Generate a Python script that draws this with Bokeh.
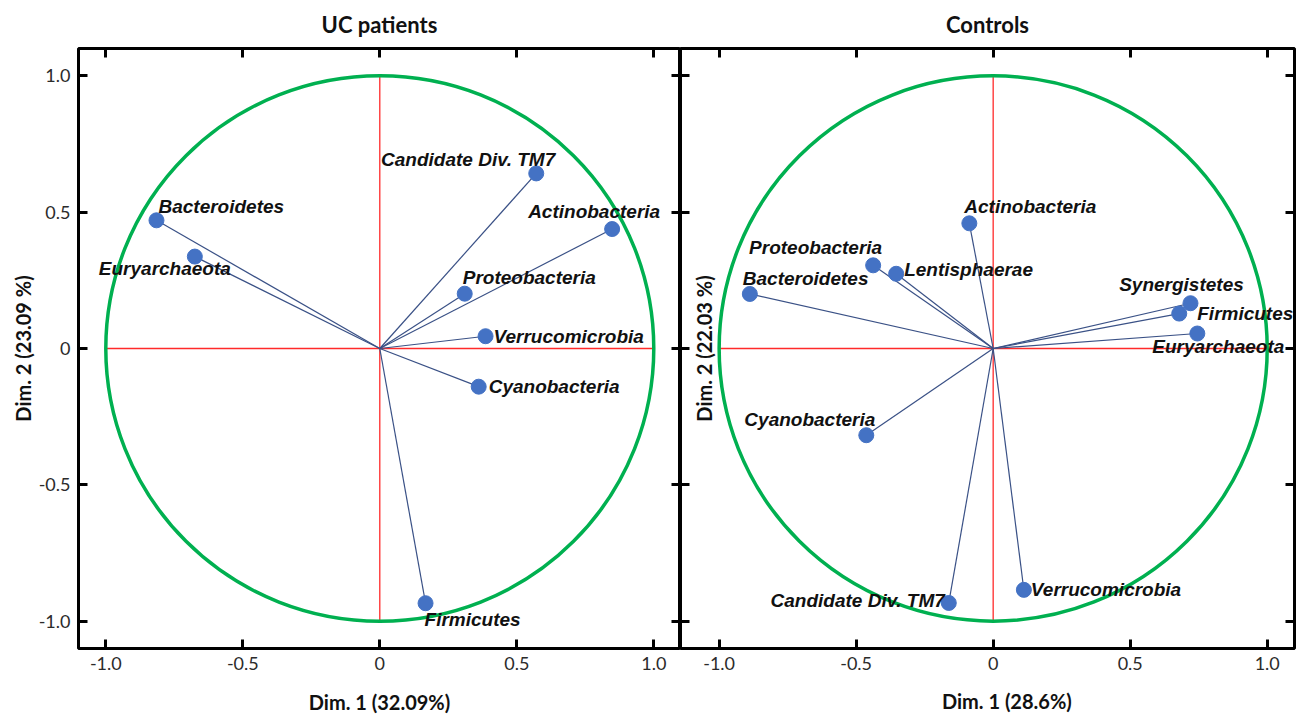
import math

from bokeh.core.properties import field, value
from bokeh.embed import file_html
from bokeh.layouts import row
from bokeh.models import (ColumnDataSource, CustomJSTickFormatter, FixedTicker,
                          Label, LinearAxis, Range1d)
from bokeh.plotting import figure
from bokeh.resources import INLINE

# ---- correlation-circle coordinates (PCA loadings) ----
uc_taxa = ["Candidate Div. TM7", "Actinobacteria", "Bacteroidetes", "Euryarchaeota",
           "Proteobacteria", "Verrucomicrobia", "Cyanobacteria", "Firmicutes"]
uc_dim1 = [0.571, 0.848, -0.815, -0.675, 0.310, 0.386, 0.361, 0.167]
uc_dim2 = [0.642, 0.438, 0.470, 0.337, 0.201, 0.045, -0.140, -0.934]

ctrl_taxa = ["Actinobacteria", "Proteobacteria", "Lentisphaerae", "Bacteroidetes",
             "Cyanobacteria", "Synergistetes", "Firmicutes", "Euryarchaeota",
             "Candidate Div. TM7", "Verrucomicrobia"]
ctrl_dim1 = [-0.087, -0.438, -0.354, -0.888, -0.463, 0.720, 0.679, 0.745, -0.162, 0.112]
ctrl_dim2 = [0.459, 0.305, 0.274, 0.200, -0.318, 0.166, 0.128, 0.055, -0.933, -0.885]

tick_values = [-1.0, -0.5, 0.0, 0.5, 1.0]

# label placement around each point: (dx px, dy px, alignment)
uc_label_place = {
    "Candidate Div. TM7": (19, -14, "right"),
    "Actinobacteria": (-18, -18, "center"),
    "Bacteroidetes": (2, -14, "left"),
    "Euryarchaeota": (36, 12, "right"),
    "Proteobacteria": (-2, -16, "left"),
    "Verrucomicrobia": (8, 0, "left"),
    "Cyanobacteria": (10, 0, "left"),
    "Firmicutes": (-1, 16, "left"),
}
ctrl_label_place = {
    "Actinobacteria": (-5, -17, "left"),
    "Proteobacteria": (9, -18, "right"),
    "Lentisphaerae": (8, -4, "left"),
    "Bacteroidetes": (-7, -15, "left"),
    "Cyanobacteria": (9, -16, "right"),
    "Synergistetes": (-9, -19, "center"),
    "Firmicutes": (18, 0, "left"),
    "Euryarchaeota": (21, 13, "center"),
    "Candidate Div. TM7": (-4, -2, "right"),
    "Verrucomicrobia": (7, 0, "left"),
}

RADIUS = 1.0
CIRCLE_GREEN = "#00B050"
AXIS_RED = "#FF2A2A"
VECTOR_COLOR = "#3A5186"
POINT_BLUE = "#4472C4"
UI_FONT = "Lato"
LABEL_FONT = "Liberation Sans"

fmt = CustomJSTickFormatter(code="return tick == 0 ? '0' : tick.toFixed(1);")
blank_fmt = CustomJSTickFormatter(code="return '';")


def tick_axis(formatter, fixed=None, **kw):
    return LinearAxis(ticker=FixedTicker(ticks=tick_values), formatter=formatter,
                      major_tick_in=9, major_tick_out=0,
                      major_tick_line_color="black", major_tick_line_width=3,
                      minor_tick_line_color=None, axis_line_color=None,
                      fixed_location=fixed, **kw)


def labelled_axis(label, label_standoff, axis_label_standoff):
    return tick_axis(fmt, axis_label=label,
                     major_label_text_font=UI_FONT,
                     major_label_text_font_size="18px",
                     major_label_text_color="#2b2b2b",
                     major_label_standoff=label_standoff,
                     axis_label_text_font=UI_FONT,
                     axis_label_text_font_size="20px",
                     axis_label_text_font_style="bold",
                     axis_label_text_color="#111111",
                     axis_label_standoff=axis_label_standoff)


def silent_axis(fixed):
    # tick marks only, on the frame edge
    return tick_axis(blank_fmt, fixed=fixed, major_label_standoff=0)


def panel(title, taxa, d1, d2, place, xr, width, border_left, border_right,
          xlabel, xlabel_at, ylabel, ylabel_inside):
    p = figure(width=width, height=716, x_range=Range1d(*xr), y_range=Range1d(-1.1, 1.1),
               output_backend="svg", toolbar_location=None,
               x_axis_location=None, y_axis_location=None,
               min_border_left=border_left, min_border_right=border_right,
               min_border_top=48, min_border_bottom=68, title=title)
    p.title.align = "center"
    p.title.vertical_align = "top"
    p.title.text_font = UI_FONT
    p.title.text_font_size = "22px"
    p.title.text_font_style = "bold"
    p.title.text_color = "#111111"
    p.title.standoff = 17
    p.grid.visible = False
    p.outline_line_color = "black"
    p.outline_line_width = 3
    p.background_fill_color = "white"
    p.border_fill_color = "white"

    if xlabel_at is None:
        p.add_layout(labelled_axis(xlabel, 8, 17), "below")
    else:
        # axis title set slightly right of the frame centre
        p.add_layout(labelled_axis(None, 8, 17), "below")
        p.add_layout(Label(x=xlabel_at, y=-4, x_units="data", y_units="screen",
                           text=xlabel, text_align="center", text_baseline="middle",
                           text_font=UI_FONT, text_font_size="20px",
                           text_font_style="bold", text_color="#111111"), "below")
    p.add_layout(silent_axis(xr[1]), "right")
    p.add_layout(silent_axis(1.1), "above")
    if ylabel_inside:
        p.add_layout(silent_axis(xr[0]), "left")
        p.add_layout(Label(x=-1.057, y=0, text=ylabel, angle=math.pi / 2,
                           text_align="center", text_baseline="middle",
                           text_font=UI_FONT, text_font_size="20px",
                           text_font_style="bold", text_color="#111111"))
    else:
        p.add_layout(labelled_axis(ylabel, 8, 1), "left")

    # reference axes inside the unit circle
    p.segment(x0=[-RADIUS, 0], y0=[0, -RADIUS], x1=[RADIUS, 0], y1=[0, RADIUS],
              line_color=AXIS_RED, line_width=1.3)
    p.ellipse(x=0, y=0, width=2 * RADIUS, height=2 * RADIUS, fill_color=None,
              line_color=CIRCLE_GREEN, line_width=3.5)

    src = ColumnDataSource(dict(
        taxon=taxa, d1=d1, d2=d2,
        dx=[place[t][0] for t in taxa],
        dy=[place[t][1] for t in taxa],
        align=[place[t][2] for t in taxa],
    ))
    p.segment(x0=0, y0=0, x1="d1", y1="d2", source=src,
              line_color=VECTOR_COLOR, line_width=1.2)
    p.scatter(x="d1", y="d2", source=src, size=15,
              fill_color=POINT_BLUE, line_color=POINT_BLUE)
    p.text(x="d1", y="d2", text="taxon", source=src,
           x_offset=field("dx"), y_offset=field("dy"),
           text_align=field("align"), text_baseline="middle",
           text_font=value(LABEL_FONT), text_font_style="bold italic",
           text_font_size="19px", text_color="#111111")
    return p


left = panel("UC patients", uc_taxa, uc_dim1, uc_dim2, uc_label_place,
             (-1.0996, 1.0975), 680, 78, 0,
             "Dim. 1 (32.09%)", None, "Dim. 2 (23.09 %)", False)
right = panel("Controls", ctrl_taxa, ctrl_dim1, ctrl_dim2, ctrl_label_place,
              (-1.141, 1.0996), 626, 0, 12,
              "Dim. 1 (28.6%)", 0.05, "Dim. 2 (22.03 %)", True)

layout = row(left, right, spacing=0)
open("out.html", "w").write(file_html(layout, INLINE))
